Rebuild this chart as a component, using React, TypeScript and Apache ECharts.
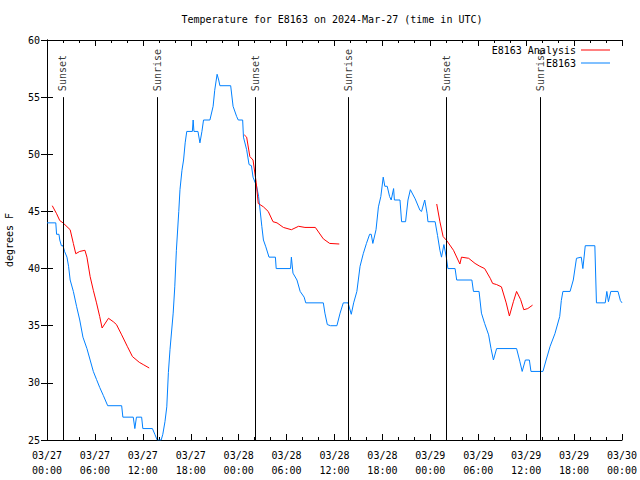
import React, { useEffect, useRef } from "react";
import * as echarts from "echarts";

// Hours since 2024-03-27 00:00 UTC
const obsHours = [
  0, 1.1, 1.2, 1.5, 1.6, 1.8, 2.0, 2.2, 2.5, 2.7, 2.9, 3.3, 3.7, 4.1, 4.5, 5.0, 5.4, 5.8, 6.2, 6.6,
  7.05, 7.6, 9.35, 9.5, 10.8, 11.0, 11.2, 11.85, 12.0, 13.2, 13.5, 13.8, 14.3, 14.5, 14.77, 15.0,
  15.2, 15.4, 15.8, 16.0, 16.2, 16.5, 16.65, 16.9, 17.1, 17.3, 17.5, 18.2, 18.3, 18.4, 18.9, 19.15,
  19.4, 19.6, 20.4, 20.8, 21.0, 21.3, 21.5, 21.65, 23.0, 23.3, 23.75, 23.95, 24.5, 24.6, 25.0, 25.3,
  25.6, 25.8, 26.25, 26.5, 26.9, 27.1, 27.4, 27.8, 28.6, 28.7, 30.5, 30.6, 30.8, 31.3, 31.7, 32.2,
  32.4, 34.6, 34.8, 35.1, 35.5, 36.3, 36.7, 37.1, 37.7, 38.1, 38.4, 38.8, 39.2, 39.6, 40.0, 40.4,
  40.6, 40.8, 41.2, 41.5, 41.8, 42.1, 42.3, 42.6, 42.9, 43.1, 43.4, 43.5, 44.2, 44.4, 44.9, 45.2,
  45.5, 46.1, 46.7, 46.9, 47.3, 47.6, 47.7, 48.6, 48.9, 49.2, 49.4, 49.7, 50.0, 50.2, 51.1, 51.3,
  53.2, 53.4, 54.1, 54.4, 54.8, 55.3, 55.6, 55.9, 56.3, 58.8, 59.2, 59.5, 59.9, 60.4, 60.6, 62.1,
  62.5, 63.0, 63.6, 64.2, 64.4, 64.6, 65.5, 65.9, 66.3, 66.9, 67.1, 67.4, 68.6, 68.8, 69.9, 70.1,
  70.3, 70.6, 71.5, 71.8, 72,
];
const obsTemps = [
  44, 44, 43, 43, 42.5, 42, 42, 41.5, 41, 40.2, 39, 38, 36.7, 35.5, 34, 33, 32, 31, 30.3, 29.6,
  28.9, 28, 28, 27, 27, 26, 27, 27, 26, 26, 25.5, 25, 25, 25.5, 26.6, 27.9,
  30.9, 32.9, 36.1, 38.4, 41.6, 45, 46.9, 48.6, 49.5, 51, 52, 52, 53, 52, 52, 51,
  52, 53, 53, 54.2, 55.6, 57, 56.5, 56, 56, 54.2, 53.3, 53, 53, 51.5, 50.4, 49.1,
  49, 48, 47.2, 46.3, 43.7, 42.5, 41.9, 41, 41, 40, 40, 41, 39.6, 39, 38, 37.5,
  37, 37, 36.1, 35.1, 35, 35, 36.1, 37, 37, 36, 37, 38, 40.2, 41.3, 42.2, 43,
  43, 42.2, 43.4, 45.4, 46.3, 48, 47.2, 47.2, 46.3, 46, 47, 46, 46, 44.1, 44.1, 46,
  46.9, 46.1, 45.1, 45, 46, 44.8, 44.1, 44.1, 42.9, 41.6, 41, 42.1, 41, 40, 40, 39,
  39, 38, 38, 36.1, 35.2, 34.2, 33, 32, 33, 33, 31.9, 31, 32, 32, 31, 31,
  32, 33.2, 34.3, 35.8, 37.2, 38, 38, 39, 40.9, 41, 40, 42, 42, 37, 37, 38,
  37.1, 38, 38, 37.2, 37,
];

const anaHours = [
  0.66, 1.2, 1.6, 2.0, 2.9, 3.3, 3.6, 4.1, 4.75, 5.0, 5.4, 5.8, 6.2, 6.6, 6.9, 7.7, 8.3, 8.7, 9.35,
  10.05, 10.7, 11.55, 12.05, 12.8,
  18,
  24.7, 25.0, 25.4, 25.8, 26.2, 26.45, 27.1, 27.7, 28.3, 28.8, 29.6, 30.6, 31.5, 32.3, 33.6, 34.6,
  35.4, 36.6,
  42,
  48.8, 49.2, 49.6, 50.05, 50.9, 51.7, 51.9, 52.8, 53.6, 54.2, 54.8, 55.5, 55.8, 56.3, 56.9, 57.5,
  57.9, 58.4, 58.8, 59.3, 59.7, 60.2, 60.8,
];
const anaTemps: (number | null)[] = [
  45.5, 44.8, 44.2, 44, 43.4, 42.2, 41.3, 41.5, 41.6, 41, 39.3, 38.1, 37, 35.8, 34.8, 35.65, 35.35,
  35.1, 34.2, 33.2, 32.3, 31.8, 31.6, 31.3,
  null,
  51.7, 51.5, 49.8, 49.5, 47.5, 45.7, 45.4, 45, 44.1, 44, 43.6, 43.4, 43.7, 43.6, 43.6, 42.6,
  42.2, 42.15,
  null,
  45.65, 44.1, 42.8, 42.45, 41.6, 40.4, 41, 40.9, 40.45, 40.2, 40.0, 39.15, 38.7, 38.6, 38.4, 37,
  35.85, 37.1, 38.0, 37.3, 36.4, 36.5, 36.8,
];

const sunHours = [2.0, 13.8, 26.05, 37.7, 50.05, 61.8];
const sunNames = ["Sunset", "Sunrise", "Sunset", "Sunrise", "Sunset", "Sunrise"];
const sunLineTop = 55;

const xMin = 0;
const xMax = 72;
const xInterval = 6;
const yMin = 25;
const yMax = 60;
const yInterval = 5;

const FONT = "DejaVu Sans Mono";

function fmtTime(h: number): string {
  const day = 27 + Math.floor(h / 24);
  const hh = Math.round(h % 24);
  const dd = day > 31 ? day - 31 : day;
  const mm = day > 31 ? "04" : "03";
  return `${mm}/${String(dd).padStart(2, "0")}\n${String(hh).padStart(2, "0")}:00`;
}

export default function App() {
  const ref = useRef<HTMLDivElement>(null);
  useEffect(() => {
    document.body.style.margin = "0";
    if (!ref.current) return;
    const chart = echarts.init(ref.current, undefined, { renderer: "svg" });
    const axisLine = { show: true, lineStyle: { color: "#000", width: 1 } };
    const tick = { show: true, inside: true, length: 6, lineStyle: { color: "#000" } };
    const minor = { show: true, splitNumber: 3, length: 3, lineStyle: { color: "#000" } };
    const obsData = obsHours.map((h, i) => [h, obsTemps[i]]);
    const anaData = anaHours.map((h, i) => [h, anaTemps[i]]);
    chart.setOption({
      animation: false,
      backgroundColor: "#fff",
      textStyle: { fontFamily: FONT },
      title: {
        text: "Temperature for E8163 on 2024-Mar-27 (time in UTC)",
        left: 332,
        textAlign: "center",
        top: 14,
        padding: 0,
        textStyle: { fontFamily: FONT, fontSize: 10, fontWeight: "normal", color: "#000" },
      },
      legend: [
        {
          data: ["E8163 Analysis"],
          right: 30,
          top: 45,
          padding: 0,
          icon: "rect",
          itemWidth: 29,
          itemHeight: 1,
          textStyle: { fontFamily: FONT, fontSize: 10, color: "#000" },
          align: "right",
          selectedMode: false,
        },
        {
          data: ["E8163"],
          right: 30,
          top: 58,
          padding: 0,
          icon: "rect",
          itemWidth: 29,
          itemHeight: 1,
          textStyle: { fontFamily: FONT, fontSize: 10, color: "#000" },
          align: "right",
          selectedMode: false,
        },
      ],
      grid: { left: 47, right: 18, top: 40, bottom: 40, containLabel: false, outerBoundsMode: "none" },
      xAxis: [
        {
          type: "value",
          min: xMin,
          max: xMax,
          interval: xInterval,
          axisLine,
          axisTick: tick,
          minorTick: minor,
          splitLine: { show: false },
          axisLabel: {
            color: "#000",
            fontFamily: FONT,
            fontSize: 10,
            lineHeight: 15,
            margin: 8,
            formatter: (v: number) => fmtTime(v),
          },
        },
        {
          type: "value",
          position: "top",
          min: xMin,
          max: xMax,
          interval: xInterval,
          axisLine,
          axisTick: tick,
          minorTick: minor,
          splitLine: { show: false },
          axisLabel: { show: false },
        },
      ],
      yAxis: [
        {
          type: "value",
          min: yMin,
          max: yMax,
          interval: yInterval,
          name: "degrees F",
          nameLocation: "middle",
          nameGap: 33,
          nameTextStyle: { fontFamily: FONT, fontSize: 10, color: "#000" },
          axisLine,
          axisTick: tick,
          splitLine: { show: false },
          axisLabel: { color: "#000", fontFamily: FONT, fontSize: 10, margin: 7 },
        },
        {
          type: "value",
          position: "right",
          min: yMin,
          max: yMax,
          interval: yInterval,
          axisLine,
          axisTick: tick,
          splitLine: { show: false },
          axisLabel: { show: false },
        },
      ],
      series: [
        {
          name: "E8163 Analysis",
          type: "line",
          data: anaData,
          showSymbol: false,
          connectNulls: false,
          lineStyle: { color: "#ff0000", width: 1 },
          itemStyle: { color: "#ff0000" },
          z: 3,
        },
        {
          name: "E8163",
          type: "line",
          data: obsData,
          showSymbol: false,
          lineStyle: { color: "#0080ff", width: 1 },
          itemStyle: { color: "#0080ff" },
          z: 2,
        },
        {
          name: "sun",
          type: "scatter",
          data: sunHours.map((h, i) => ({ value: [h, sunLineTop], name: sunNames[i] })),
          symbolSize: 0,
          silent: true,
          label: {
            show: true,
            position: "top",
            distance: 6,
            rotate: 90,
            align: "left",
            verticalAlign: "middle",
            formatter: (p: any) => p.name,
            fontFamily: FONT,
            fontSize: 10,
            color: "#000",
          },
          markLine: {
            silent: true,
            symbol: "none",
            label: { show: false },
            lineStyle: { color: "#000", width: 1, type: "solid" },
            data: sunHours.map((h) => [
              { coord: [h, yMin] },
              { coord: [h, sunLineTop] },
            ]),
          },
          z: 1,
        },
      ],
    });
    return () => chart.dispose();
  }, []);
  return <div ref={ref} style={{ width: 640, height: 480 }} />;
}
